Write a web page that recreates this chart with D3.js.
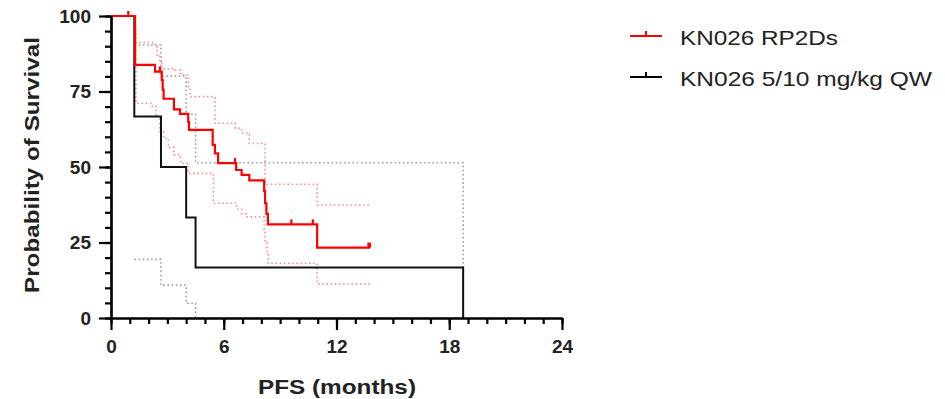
<!DOCTYPE html>
<html>
<head>
<meta charset="utf-8">
<script src="https://cdn.jsdelivr.net/npm/d3@7"></script>
<style>
  body { margin: 0; background: #fff; }
  svg { display: block; font-family: "Liberation Sans", Arial, sans-serif; }
</style>
</head>
<body>
<svg id="chart" width="945" height="399"></svg>
<script>
// Kaplan-Meier steps: [months, survival %]
const rp2dSteps = [[0, 100], [1.28, 83.8], [2.34, 81.6], [2.7, 78.8], [2.75, 75.6], [2.8, 72.6],
  [3.35, 69.1], [3.67, 67.6], [4.11, 64.9], [4.15, 62.3], [5.41, 57.3], [5.53, 54.5], [5.7, 51.3],
  [6.66, 49], [6.95, 47.4], [7.36, 45.6], [8.15, 42], [8.2, 38], [8.27, 34.5], [8.35, 31],
  [10.97, 23.3], [13.78, 23.3]];
const rp2dUpper = [[1.28, 91.2], [2.34, 89.8], [2.45, 87], [2.6, 84.5], [2.7, 82.5], [3.4, 82.1],
  [3.7, 80.5], [4.12, 76], [4.2, 73.3], [5.53, 64.5], [6.62, 62.8], [6.95, 61.2], [7.36, 57.8],
  [8.2, 44.3], [10.97, 37.4], [13.78, 37.4]];
const rp2dLower = [[1.28, 95.4], [1.33, 71.1], [2.2, 70], [2.4, 66.7], [2.6, 61.7], [2.8, 59.5],
  [3.05, 56.5], [3.35, 54], [3.7, 51.2], [4.12, 47.9], [5.45, 38], [6.69, 36], [6.95, 34.5],
  [7.2, 33.5], [8.15, 29], [8.2, 25], [8.3, 21], [8.37, 18.1], [10.97, 11.3], [13.78, 11.3]];
const rp2dCensored = [[0.92, 100], [2.6, 81.6], [6.6, 51.3], [9.6, 31], [10.74, 31], [13.7, 23.3], [13.78, 23.3]];

const qwSteps = [[0, 100], [1.24, 66.7], [2.66, 50], [4.0, 33.3], [4.5, 16.7], [18.74, 0]];
const qwUpper = [[1.24, 90.4], [2.66, 80.1], [4.0, 67.5], [4.5, 51.4], [18.74, 16.7]];
const qwLower = [[1.24, 19.4], [2.66, 10.9], [4.0, 4.9], [4.5, 0], [18.74, 0]];

const xMajor = [0, 6, 12, 18, 24];
const xMinor = d3.range(0, 25, 1);
const yMajor = [0, 25, 50, 75, 100];
const yMinor = d3.range(0, 101, 5);

const legendItems = [
  { label: "KN026 RP2Ds", color: "#ff0000", width: 158 },
  { label: "KN026 5/10 mg/kg QW", color: "#000000", width: 252 }
];

const svg = d3.select("#chart");

const x = d3.scaleLinear().domain([0, 24]).range([111, 562]);
const y = d3.scaleLinear().domain([0, 100]).range([318, 16]);

const step = d3.line()
  .x(d => x(d[0]))
  .y(d => y(d[1]))
  .curve(d3.curveStepAfter);

// confidence bands first, dotted
function dotted(data, color) {
  svg.append("path")
    .attr("d", step(data))
    .attr("fill", "none")
    .attr("stroke", color)
    .attr("stroke-width", 1.6)
    .attr("stroke-dasharray", "1.6,2.6");
}
dotted(qwUpper, "#a0a0a0");
dotted(qwLower, "#a0a0a0");
dotted(rp2dUpper, "#ff9090");
dotted(rp2dLower, "#ff9090");

// black curve
svg.append("path")
  .attr("d", step(qwSteps))
  .attr("fill", "none")
  .attr("stroke", "#111")
  .attr("stroke-width", 2);

// red curve
svg.append("path")
  .attr("d", step(rp2dSteps))
  .attr("fill", "none")
  .attr("stroke", "#ff0000")
  .attr("stroke-width", 2.2);

svg.selectAll(".censor")
  .data(rp2dCensored)
  .join("line")
  .attr("class", "censor")
  .attr("x1", d => x(d[0])).attr("x2", d => x(d[0]))
  .attr("y1", d => y(d[1])).attr("y2", d => y(d[1]) - 5)
  .attr("stroke", "#ff0000")
  .attr("stroke-width", 2.2);

// axes
function styleAxis(g) {
  g.selectAll("path, line").attr("stroke", "#000").attr("stroke-width", 2.2);
  g.selectAll("text")
    .attr("fill", "#222")
    .style("font-size", "19px")
    .style("font-weight", "bold");
}

svg.append("g")
  .attr("transform", `translate(0,${y(0)})`)
  .call(d3.axisBottom(x).tickValues(xMinor).tickSize(6).tickFormat("").tickSizeOuter(0))
  .call(styleAxis);
svg.append("g")
  .attr("transform", `translate(0,${y(0)})`)
  .call(d3.axisBottom(x).tickValues(xMajor).tickSize(12).tickPadding(10).tickSizeOuter(0))
  .call(styleAxis);

svg.append("g")
  .attr("transform", `translate(${x(0)},0)`)
  .call(d3.axisLeft(y).tickValues(yMinor).tickSize(6).tickFormat("").tickSizeOuter(0))
  .call(styleAxis);
svg.append("g")
  .attr("transform", `translate(${x(0)},0)`)
  .call(d3.axisLeft(y).tickValues(yMajor).tickSize(12).tickPadding(8).tickSizeOuter(0))
  .call(styleAxis);

// axis titles
svg.append("text")
  .attr("x", 337).attr("y", 394)
  .attr("text-anchor", "middle")
  .attr("fill", "#222")
  .attr("textLength", 158).attr("lengthAdjust", "spacingAndGlyphs")
  .style("font-size", "21px").style("font-weight", "bold")
  .text("PFS (months)");

svg.append("text")
  .attr("transform", "translate(39,165) rotate(-90)")
  .attr("text-anchor", "middle")
  .attr("fill", "#222")
  .attr("textLength", 256).attr("lengthAdjust", "spacingAndGlyphs")
  .style("font-size", "21px").style("font-weight", "bold")
  .text("Probability of Survival");

// legend
const legend = svg.selectAll(".legend")
  .data(legendItems)
  .join("g")
  .attr("class", "legend")
  .attr("transform", (d, i) => `translate(630,${36 + i * 41})`);

legend.append("line")
  .attr("x1", 0).attr("x2", 32)
  .attr("stroke", d => d.color).attr("stroke-width", 2);
legend.append("line")
  .attr("x1", 16).attr("x2", 16).attr("y1", 0).attr("y2", -5)
  .attr("stroke", d => d.color).attr("stroke-width", 2);
legend.append("text")
  .attr("x", 50).attr("y", 9)
  .attr("fill", "#222")
  .attr("textLength", d => d.width).attr("lengthAdjust", "spacingAndGlyphs")
  .style("font-size", "21px")
  .text(d => d.label);
</script>
</body>
</html>
